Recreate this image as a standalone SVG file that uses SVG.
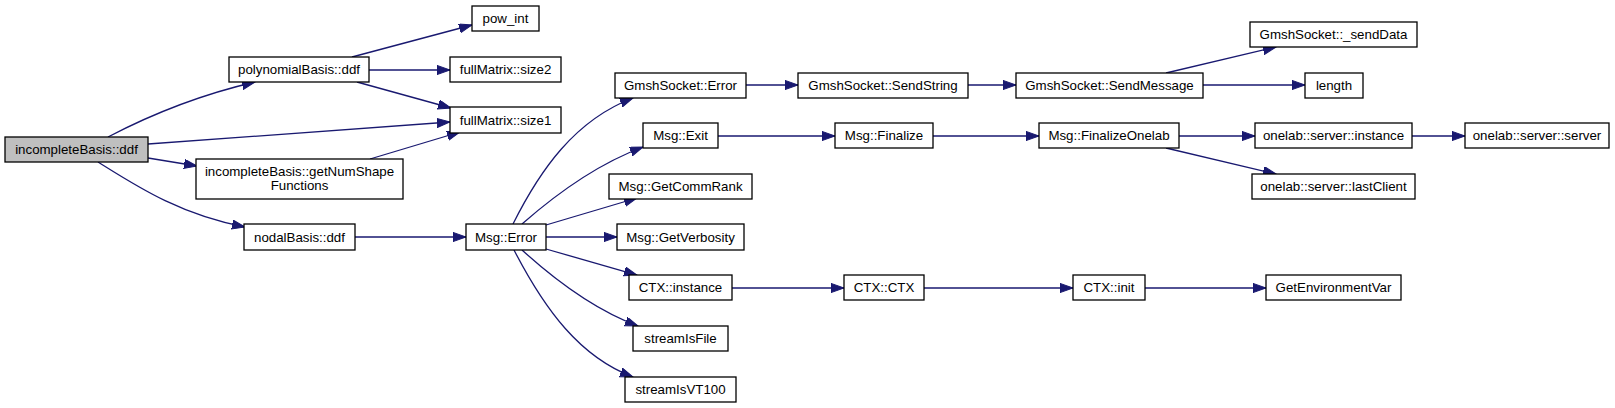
<svg xmlns="http://www.w3.org/2000/svg" width="1615" height="408" viewBox="0 0 1615 408">
<style>
.n rect{fill:#fff;stroke:#000;stroke-width:1.3}
.n text{font-family:"Liberation Sans",Arial,sans-serif;font-size:13.3px;text-anchor:middle;fill:#000}
.e path{fill:none;stroke:#191970;stroke-width:1.3;marker-end:url(#a)}
</style>
<defs>
<marker id="a" markerWidth="14" markerHeight="10" refX="13" refY="4.6" orient="auto" markerUnits="userSpaceOnUse">
<path d="M0,0 L13,4.6 L0,9.2 z" fill="#191970" stroke="#191970" stroke-width="1"/>
</marker>
</defs>
<rect width="1615" height="408" fill="#fff"/>
<g id="edges" class="e">
<path d="M108,137 C150,115 195,96 255,82"/>
<path d="M148,144 L450,122"/>
<path d="M148,158 L197,166"/>
<path d="M98,162 C135,185 178,214 245,227"/>
<path d="M352,57 L472,25"/>
<path d="M369,70 L450,70"/>
<path d="M357,82 L451,108"/>
<path d="M370,159 L460,132"/>
<path d="M355,237 L466,237"/>
<path d="M513,224 C540,170 575,120 633,98"/>
<path d="M522,224 C555,195 595,165 643,147"/>
<path d="M546,225 L637,198"/>
<path d="M546,237 L617,237"/>
<path d="M546,249 L637,275"/>
<path d="M522,250 C555,280 595,310 638,326"/>
<path d="M514,250 C545,310 580,357 633,377"/>
<path d="M746,85 L798,85"/>
<path d="M968,85 L1016,85"/>
<path d="M1166,73 L1276,47"/>
<path d="M1203,85 L1305,85"/>
<path d="M718,136 L835,136"/>
<path d="M933,136 L1039,136"/>
<path d="M1179,136 L1255,136"/>
<path d="M1166,148 L1276,174"/>
<path d="M1412,136 L1465,136"/>
<path d="M732,288 L844,288"/>
<path d="M924,288 L1073,288"/>
<path d="M1145,288 L1266,288"/>
</g>
<g id="n0" class="n"><rect x="5" y="137" width="143" height="25" style="fill:#bfbfbf"/><text x="76.5" y="154">incompleteBasis::ddf</text></g>
<g id="n1" class="n"><rect x="229" y="57" width="140" height="25"/><text x="299" y="74">polynomialBasis::ddf</text></g>
<g id="n2" class="n"><rect x="196" y="159" width="207" height="40"/><text x="299.5" y="175.5">incompleteBasis::getNumShape</text><text x="299.5" y="189.5">Functions</text></g>
<g id="n3" class="n"><rect x="244" y="224" width="111" height="26"/><text x="299.5" y="241.5">nodalBasis::ddf</text></g>
<g id="n4" class="n"><rect x="472" y="6" width="67" height="25"/><text x="505.5" y="23">pow_int</text></g>
<g id="n5" class="n"><rect x="450" y="57" width="111" height="25"/><text x="505.5" y="74">fullMatrix::size2</text></g>
<g id="n6" class="n"><rect x="450" y="107" width="111" height="26"/><text x="505.5" y="124.5">fullMatrix::size1</text></g>
<g id="n7" class="n"><rect x="466" y="224" width="80" height="26"/><text x="506" y="241.5">Msg::Error</text></g>
<g id="n8" class="n"><rect x="615" y="73" width="131" height="25"/><text x="680.5" y="90">GmshSocket::Error</text></g>
<g id="n9" class="n"><rect x="643" y="123" width="75" height="25"/><text x="680.5" y="140">Msg::Exit</text></g>
<g id="n10" class="n"><rect x="609" y="174" width="143" height="25"/><text x="680.5" y="191">Msg::GetCommRank</text></g>
<g id="n11" class="n"><rect x="617" y="224" width="127" height="26"/><text x="680.5" y="241.5">Msg::GetVerbosity</text></g>
<g id="n12" class="n"><rect x="629" y="275" width="103" height="25"/><text x="680.5" y="292">CTX::instance</text></g>
<g id="n13" class="n"><rect x="633" y="326" width="95" height="25"/><text x="680.5" y="343">streamIsFile</text></g>
<g id="n14" class="n"><rect x="625" y="377" width="111" height="25"/><text x="680.5" y="394">streamIsVT100</text></g>
<g id="n15" class="n"><rect x="798" y="73" width="170" height="25"/><text x="883" y="90">GmshSocket::SendString</text></g>
<g id="n16" class="n"><rect x="835" y="123" width="98" height="25"/><text x="884" y="140">Msg::Finalize</text></g>
<g id="n17" class="n"><rect x="844" y="275" width="80" height="25"/><text x="884" y="292">CTX::CTX</text></g>
<g id="n18" class="n"><rect x="1016" y="73" width="187" height="25"/><text x="1109.5" y="90">GmshSocket::SendMessage</text></g>
<g id="n19" class="n"><rect x="1039" y="123" width="140" height="25"/><text x="1109" y="140">Msg::FinalizeOnelab</text></g>
<g id="n20" class="n"><rect x="1073" y="275" width="72" height="25"/><text x="1109" y="292">CTX::init</text></g>
<g id="n21" class="n"><rect x="1250" y="22" width="167" height="25"/><text x="1333.5" y="39">GmshSocket::_sendData</text></g>
<g id="n22" class="n"><rect x="1305" y="73" width="58" height="25"/><text x="1334" y="90">length</text></g>
<g id="n23" class="n"><rect x="1255" y="123" width="157" height="25"/><text x="1333.5" y="140">onelab::server::instance</text></g>
<g id="n24" class="n"><rect x="1252" y="174" width="163" height="25"/><text x="1333.5" y="191">onelab::server::lastClient</text></g>
<g id="n25" class="n"><rect x="1266" y="275" width="135" height="25"/><text x="1333.5" y="292">GetEnvironmentVar</text></g>
<g id="n26" class="n"><rect x="1465" y="123" width="144" height="25"/><text x="1537" y="140">onelab::server::server</text></g>
</svg>
